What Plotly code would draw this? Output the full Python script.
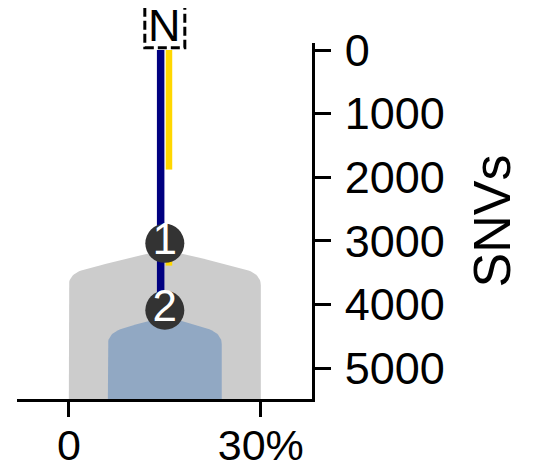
import plotly.graph_objects as go

# ---- data ----
clone_names = ["clone 1", "clone 2"]
clone_left = [0.0, 6.1]        # % (cancer cell fraction extent)
clone_right = [30.0, 23.9]
clone_peak = [3150, 4200]      # SNVs at top centre of each clone shape
clone_edge = [3520, 4450]      # SNVs where the top slope meets the sides
clone_colors = ["#cccccc", "#91a8c3"]

branch_x = 15.0                # % position of the lineage
navy_segments = [(0, 4090)]    # SNVs
yellow_segments = [(0, 1880), (3040, 3390)]
node_labels = ["1", "2"]
node_snvs = [3040, 4090]

x_tickvals = [0, 30]
x_ticktext = ["0", "30%"]
y_tickvals = [0, 1000, 2000, 3000, 4000, 5000]
root_label = "N"
root_snv = -380

# ---- layout constants ----
# page body has an 8px default margin, so the figure is a bit smaller
W, H = 525, 461
ML, MR, MT, MB = 9, 221, 35, 70
xr = [-8.1, 38.0]
yr = [5487, -110]
FONT = "Liberation Sans, Arial, sans-serif"


def outline(left, right, peak, edge, floor, cdx=2.3, cdy=180, n=12):
    c = (left + right) / 2
    hw = (right - left) / 2

    def top(x):
        u = abs(x - c) / hw
        return peak + (edge - peak) * u ** 1.15

    xs, ys = [left, left], [floor, edge + cdy]
    p0 = (left, edge + cdy); p1 = (left, edge); p2 = (left + cdx, top(left + cdx))
    for i in range(1, n + 1):
        t = i / n
        xs.append((1 - t) ** 2 * p0[0] + 2 * (1 - t) * t * p1[0] + t * t * p2[0])
        ys.append((1 - t) ** 2 * p0[1] + 2 * (1 - t) * t * p1[1] + t * t * p2[1])
    m = 30
    for i in range(1, m + 1):
        x = left + cdx + (right - left - 2 * cdx) * i / m
        xs.append(x); ys.append(top(x))
    p0 = (right - cdx, top(right - cdx)); p1 = (right, edge); p2 = (right, edge + cdy)
    for i in range(1, n + 1):
        t = i / n
        xs.append((1 - t) ** 2 * p0[0] + 2 * (1 - t) * t * p1[0] + t * t * p2[0])
        ys.append((1 - t) ** 2 * p0[1] + 2 * (1 - t) * t * p1[1] + t * t * p2[1])
    xs += [right, left]
    ys += [floor, floor]
    return xs, ys


fig = go.Figure()

for i in range(len(clone_names)):
    xs, ys = outline(clone_left[i], clone_right[i], clone_peak[i], clone_edge[i], yr[0])
    fig.add_trace(go.Scatter(x=xs, y=ys, mode="lines", fill="toself",
                             fillcolor=clone_colors[i], line=dict(width=0),
                             hoverinfo="skip", showlegend=False, name=clone_names[i]))


def seg_trace(segs, xpos, color, width):
    xs, ys = [], []
    for a, b in segs:
        xs += [xpos, xpos, None]
        ys += [a, b, None]
    return go.Scatter(x=xs, y=ys, mode="lines", line=dict(color=color, width=width),
                      showlegend=False, hoverinfo="skip")


fig.add_trace(seg_trace(navy_segments, branch_x - 0.65, "#000080", 7.5))
fig.add_trace(seg_trace(yellow_segments, branch_x + 0.65, "#ffd700", 6.5))

fig.add_trace(go.Scatter(
    x=[branch_x] * len(node_snvs), y=node_snvs, mode="markers+text",
    marker=dict(size=39, color="#333333", line=dict(width=0)),
    text=node_labels, textposition="middle center",
    textfont=dict(family=FONT, size=44, color="white"),
    showlegend=False, hoverinfo="skip", cliponaxis=False))

pw = W - ML - MR
ph = H - MT - MB


def px(v):
    return (v - xr[0]) / (xr[1] - xr[0])


def py(v):
    return (yr[0] - v) / (yr[0] - yr[1])


cx, cy = px(branch_x), py(root_snv)
fig.add_shape(type="rect", xref="paper", yref="paper",
              x0=cx - 20 / pw, x1=cx + 20 / pw, y0=cy - 22 / ph, y1=cy + 23 / ph,
              line=dict(color="black", width=3, dash="9px,4px"), fillcolor="white",
              layer="above")
fig.add_annotation(x=cx, y=cy + 1 / ph, xref="paper", yref="paper", text=root_label,
                   showarrow=False, font=dict(family=FONT, size=45, color="black"),
                   xanchor="center", yanchor="middle", height=44)

fig.update_layout(
    width=W, height=H,
    margin=dict(l=ML, r=MR, t=MT, b=MB, autoexpand=False),
    paper_bgcolor="white", plot_bgcolor="white",
    font=dict(family=FONT, color="black"),
    xaxis=dict(range=xr, showgrid=False, zeroline=False, showline=True,
               linecolor="black", linewidth=2.5, ticks="outside", ticklen=15,
               tickwidth=2.5, tickcolor="black", tickvals=x_tickvals,
               ticktext=x_ticktext, tickfont=dict(size=43, family=FONT),
               ticklabelstandoff=-8, fixedrange=True),
    yaxis=dict(range=yr, side="right", showgrid=False, zeroline=False,
               showline=True, linecolor="black", linewidth=2.5, ticks="outside",
               ticklen=16, tickwidth=2.5, tickcolor="black", tickvals=y_tickvals,
               tickfont=dict(size=45, family=FONT), ticklabelstandoff=5,
               title=dict(text="SNVs", font=dict(size=52, family=FONT), standoff=30),
               fixedrange=True),
)

fig.write_html("out.html")
